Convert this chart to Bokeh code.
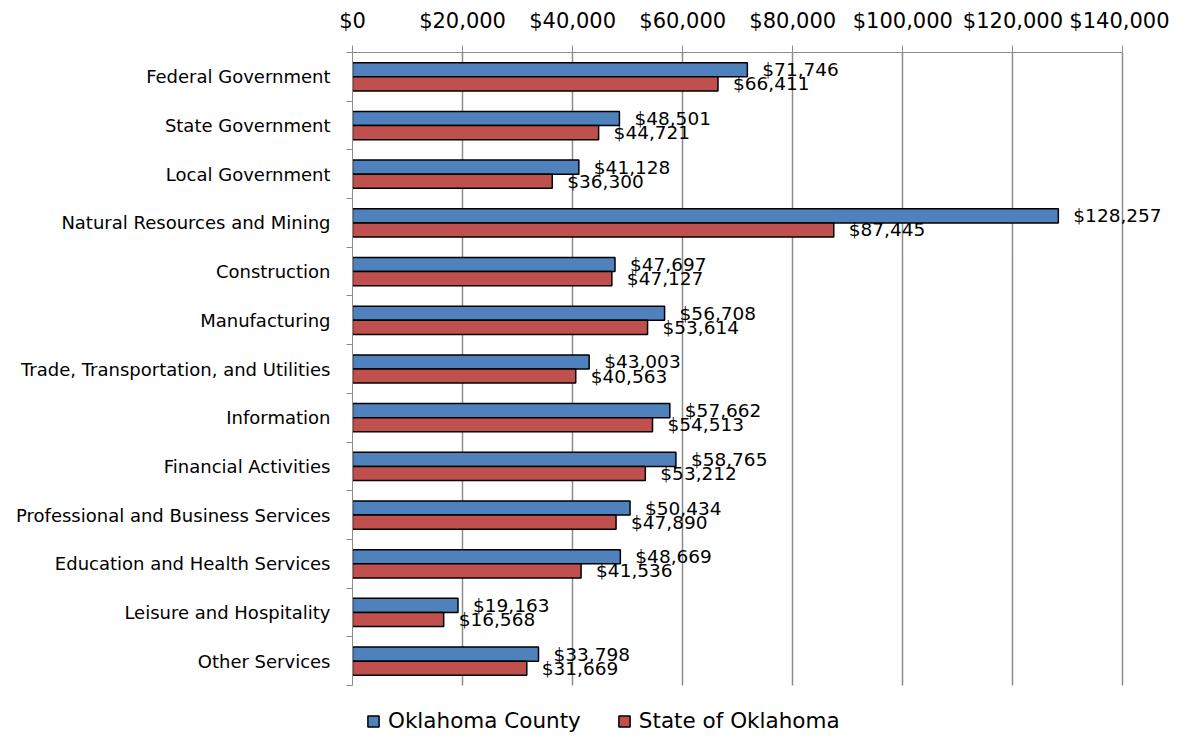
from bokeh.plotting import figure
from bokeh.models import (ColumnDataSource, Range1d, FixedTicker, NumeralTickFormatter,
                          LinearAxis, Legend, LegendItem)
from bokeh.transform import dodge
from bokeh.embed import file_html
from bokeh.resources import INLINE

categories = ["Federal Government", "State Government", "Local Government",
              "Natural Resources and Mining", "Construction", "Manufacturing",
              "Trade, Transportation, and Utilities", "Information",
              "Financial Activities", "Professional and Business Services",
              "Education and Health Services", "Leisure and Hospitality",
              "Other Services"]
county = [71746, 48501, 41128, 128257, 47697, 56708, 43003, 57662, 58765,
          50434, 48669, 19163, 33798]
state = [66411, 44721, 36300, 87445, 47127, 53614, 40563, 54513, 53212,
         47890, 41536, 16568, 31669]
series_names = ["Oklahoma County", "State of Oklahoma"]
x_ticks = [0, 20000, 40000, 60000, 80000, 100000, 120000, 140000]

FONT = "DejaVu Sans"
BLUE = "#4F81BD"
RED = "#C0504D"
GRID = "#8C8C8C"

W, H = 1169, 733
TOP, CAT_BOTTOM = 52, 685          # pixel rows where the category area starts/ends
n = len(categories)
pos = [i + 0.5 for i in range(n)]
src = ColumnDataSource(dict(
    y=pos, county=county, state=state,
    county_lbl=["${:,}".format(v) for v in county],
    state_lbl=["${:,}".format(v) for v in state],
))

# the frame runs to the bottom of the figure so the legend can sit below the bars;
# the y range is stretched accordingly and the axis/grid are bounded to the categories
y_end = n * (H - TOP) / (CAT_BOTTOM - TOP)
p = figure(width=W, height=H, output_backend="svg", toolbar_location=None,
           x_range=Range1d(0, 147000), y_range=Range1d(y_end, 0),
           x_axis_location="above", y_axis_location=None,
           min_border_left=352, min_border_right=8, min_border_top=TOP,
           min_border_bottom=0)
p.outline_line_color = None

xa = p.xaxis[0]
xa.ticker = FixedTicker(ticks=x_ticks)
xa.bounds = (0, 140000)
xa.formatter = NumeralTickFormatter(format="$0,0")
xa.major_label_text_font = FONT
xa.major_label_text_font_size = "21px"
xa.major_label_text_color = "#000000"
xa.axis_line_color = GRID
xa.major_tick_line_color = GRID
xa.major_tick_out = 7
xa.major_tick_in = 0
xa.minor_tick_line_color = None
xa.major_label_standoff = 13

ya = LinearAxis(ticker=FixedTicker(ticks=pos, minor_ticks=list(range(n + 1))),
                major_label_overrides={pv: c for pv, c in zip(pos, categories)},
                bounds=(0, n))
ya.major_label_text_font = FONT
ya.major_label_text_font_size = "18px"
ya.major_label_text_color = "#000000"
ya.axis_line_color = GRID
ya.major_tick_line_color = None
ya.minor_tick_line_color = GRID
ya.minor_tick_out = 6
ya.minor_tick_in = 0
ya.major_label_standoff = 16
p.add_layout(ya, "left")

p.ygrid.grid_line_color = None
g = p.xgrid[0]
if "cross_bounds" in g.properties():
    g.ticker = FixedTicker(ticks=x_ticks[1:])
    g.cross_bounds = (0, n)
    g.grid_line_color = GRID
    g.grid_line_width = 1.5
else:
    g.grid_line_color = None
    gx = x_ticks[1:]
    p.segment(x0=gx, x1=gx, y0=[0] * len(gx), y1=[n] * len(gx),
              line_color=GRID, line_width=1.5)

bh = 0.29
r1 = p.hbar(y=dodge("y", -bh / 2), right="county", left=0, height=bh, source=src,
            fill_color=BLUE, line_color="black", line_width=1.5)
r2 = p.hbar(y=dodge("y", bh / 2), right="state", left=0, height=bh, source=src,
            fill_color=RED, line_color="black", line_width=1.5)

p.text(x="county", y=dodge("y", -bh / 2), text="county_lbl", source=src,
       x_offset=15, text_baseline="middle", text_align="left",
       text_font={"value": FONT}, text_font_size={"value": "18.5px"}, text_color="#000000")
p.text(x="state", y=dodge("y", bh / 2), text="state_lbl", source=src,
       x_offset=15, text_baseline="middle", text_align="left",
       text_font={"value": FONT}, text_font_size={"value": "18.5px"}, text_color="#000000")

legend = Legend(items=[LegendItem(label=series_names[0], renderers=[r1]),
                       LegendItem(label=series_names[1], renderers=[r2])],
                orientation="horizontal", location=(14, 0),
                label_text_font=FONT, label_text_font_size="21.5px",
                label_text_color="#000000",
                glyph_width=14, glyph_height=14, label_standoff=8, spacing=36,
                padding=1, margin=0, border_line_color=None,
                background_fill_alpha=0)
p.add_layout(legend, "center")

open("out.html", "w").write(file_html(p, INLINE))
